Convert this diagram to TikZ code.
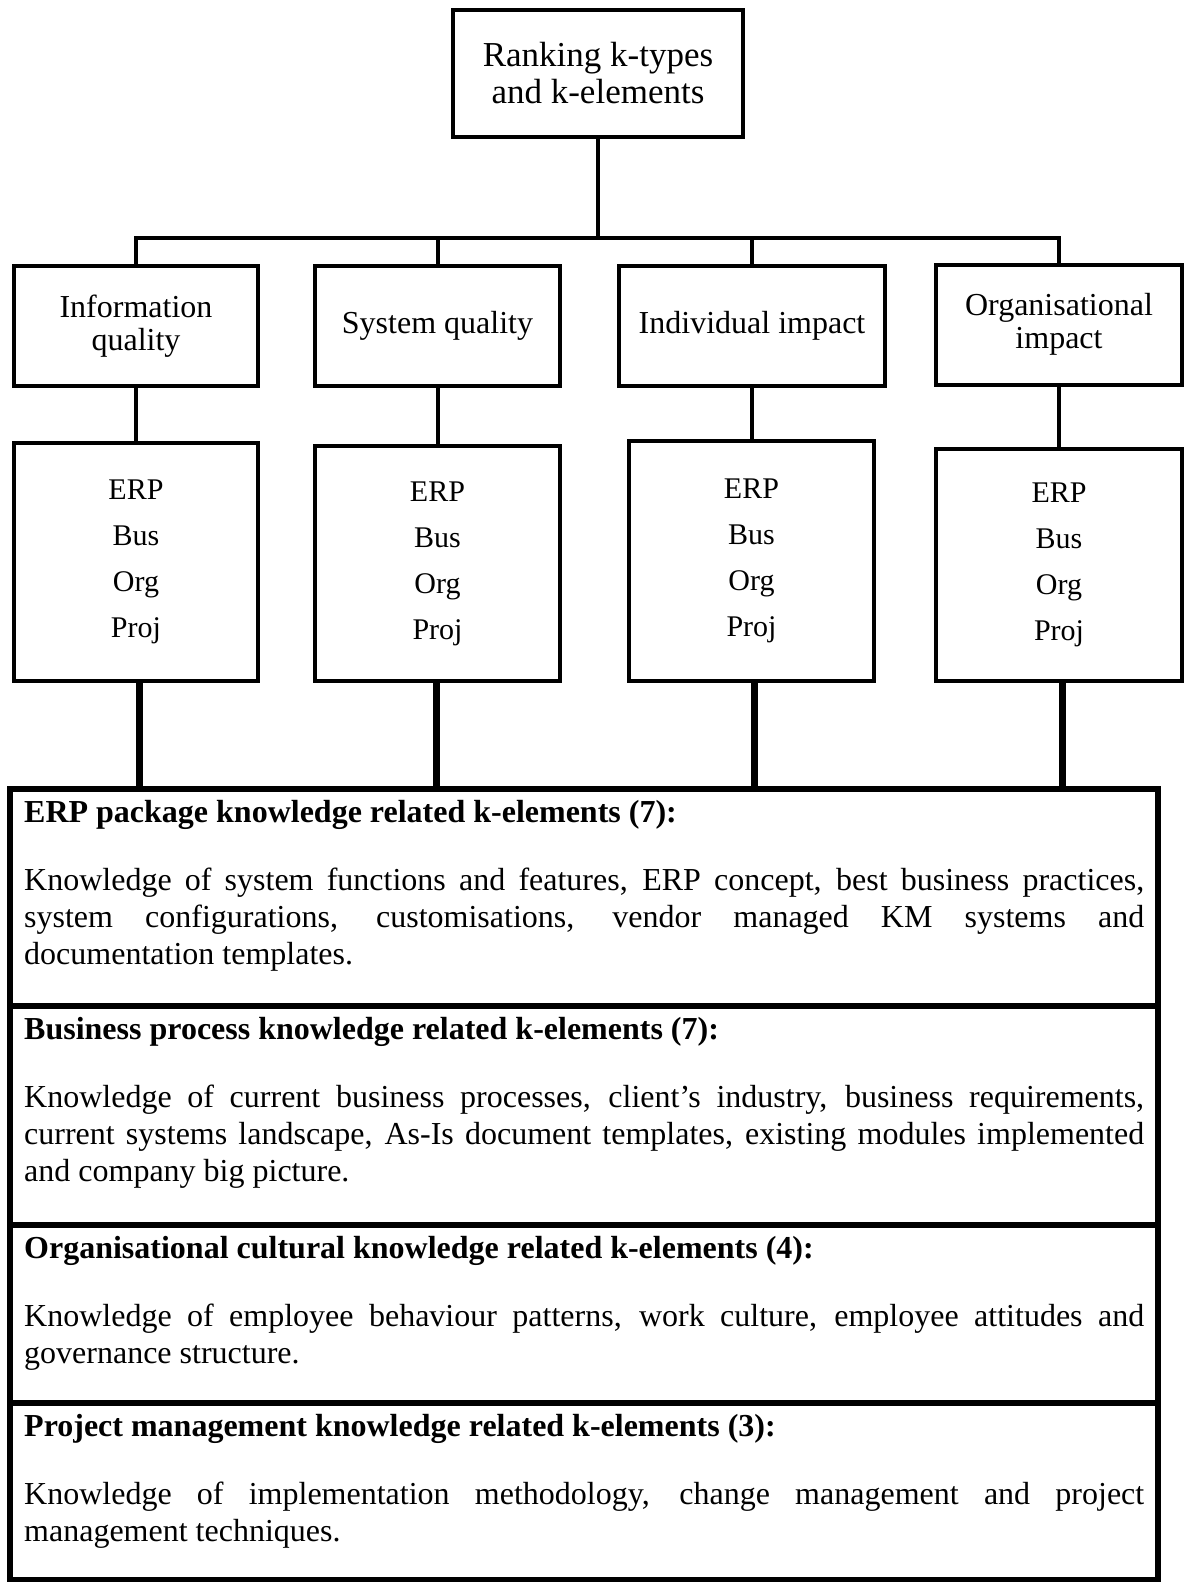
\documentclass[tikz,border=0pt]{standalone}
\usepackage{fontspec}
\setmainfont{Liberation Serif}
\usepackage{tikz}
\usetikzlibrary{positioning}
\setlength{\parindent}{0pt}
\tolerance=10000
\hbadness=10000
\tikzset{
  raiz/.style={rectangle,draw,line width=4pt,minimum width=290pt,minimum height=127pt,
    align=center,font=\fontsize{35}{37}\selectfont},
  tipo/.style={rectangle,draw,line width=4pt,minimum height=120pt,
    align=center,font=\fontsize{32}{33}\selectfont},
  lista/.style={rectangle,draw,line width=4pt,align=center,
    font=\fontsize{30}{46}\selectfont},
  secao/.style={rectangle,draw,line width=6pt,minimum width=1148pt},
  texto/.style={anchor=north west,inner sep=0pt,text width=1120pt,align=justify,
    font=\fontsize{32}{36.8}\selectfont},
  liga/.style={line width=4pt},
  ligagrossa/.style={line width=7pt}
}

\begin{document}
\begin{tikzpicture}[x=1pt,y=-1pt]
\useasboundingbox (0,0) rectangle (1192,1582);
\node[raiz] (raiz) at (598,73.5) {Ranking k-types\\and k-elements};
\coordinate (juncao) at (597,238);
% tipos
\node[tipo,minimum width=244pt] (tipo1) at (136,326) {Information\\quality};
\node[tipo,minimum width=245pt] (tipo2) at (437.5,326) {System quality};
\node[tipo,minimum width=266pt] (tipo3) at (752,326) {Individual impact};
\node[tipo,minimum width=246pt] (tipo4) at (1059,324.5) {Organisational\\impact};
% listas
\node[lista,minimum width=244pt,minimum height=238pt] (lista1) at (136,562) {ERP\\Bus\\Org\\Proj};
\node[lista,minimum width=245pt,minimum height=235pt] (lista2) at (437.5,563.5) {ERP\\Bus\\Org\\Proj};
\node[lista,minimum width=245pt,minimum height=240pt] (lista3) at (751.5,561) {ERP\\Bus\\Org\\Proj};
\node[lista,minimum width=246pt,minimum height=232pt] (lista4) at (1059,565) {ERP\\Bus\\Org\\Proj};
% secoes
\node[secao,minimum height=217pt] (secao1) at (584,897.5) {};
\node[secao,minimum height=219pt] (secao2) at (584,1115.5) {};
\node[secao,minimum height=178pt] (secao3) at (584,1314) {};
\node[secao,minimum height=177pt] (secao4) at (584,1491.5) {};
\node[texto] (texto1) at ([xshift=17pt,yshift=-11pt]secao1.north west)
  {\strut\textbf{ERP package knowledge related k-elements (7):}\par\vspace{31pt}
  Knowledge of system functions and features, ERP concept, best business practices,\linebreak
  system configurations, customisations, vendor managed KM systems and\linebreak
  documentation templates.};
\node[texto] (texto2) at ([xshift=17pt,yshift=-11pt]secao2.north west)
  {\strut\textbf{Business process knowledge related k-elements (7):}\par\vspace{31pt}
  Knowledge of current business processes, client's industry, business requirements,\linebreak
  current systems landscape, As-Is document templates, existing modules implemented\linebreak
  and company big picture.};
\node[texto] (texto3) at ([xshift=17pt,yshift=-11pt]secao3.north west)
  {\strut\textbf{Organisational cultural knowledge related k-elements (4):}\par\vspace{31pt}
  Knowledge of employee behaviour patterns, work culture, employee attitudes and\linebreak
  governance structure.};
\node[texto] (texto4) at ([xshift=17pt,yshift=-11pt]secao4.north west)
  {\strut\textbf{Project management knowledge related k-elements (3):}\par\vspace{31pt}
  Knowledge of implementation methodology, change management and project\linebreak
  management techniques.};
% ligacoes
\draw[liga] (raiz.south) -- (raiz.south |- juncao);
\draw[liga] (tipo1.north) |- (juncao) -| (tipo4.north);
\foreach \i in {2,3}
  \draw[liga] (tipo\i.north) -- (tipo\i.north |- juncao);
\foreach \i in {1,...,4}
  \draw[liga] (tipo\i.south) -- (tipo\i.south |- lista\i.north);
\foreach \i/\d in {1/3,2/-1,3/3,4/3}
  \draw[ligagrossa] ([xshift=\d pt]lista\i.south) -- ([xshift=\d pt]lista\i.south |- secao1.north);
\end{tikzpicture}
\end{document}
